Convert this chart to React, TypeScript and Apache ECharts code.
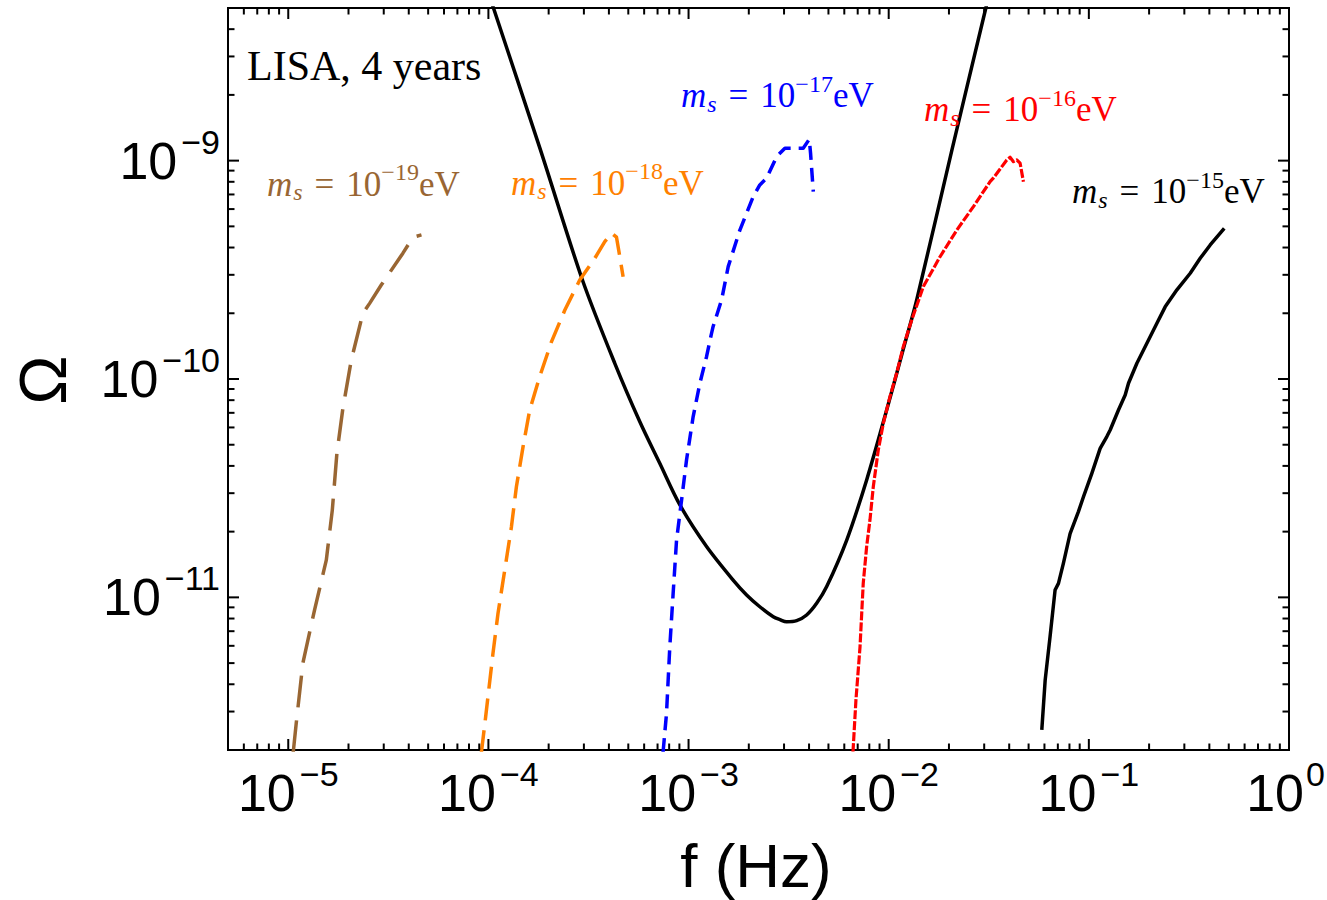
import React, { useEffect, useRef } from 'react';
import * as echarts from 'echarts';

// Frame of the plot: frequency (Hz) and energy density Ω, both logarithmic
const F_MIN = 5e-6;
const F_MAX = 1;
const OMEGA_MIN = 2e-12;
const OMEGA_MAX = 5e-9;

// Exponents that carry a tick label
const freqLabelExponents = [-5, -4, -3, -2, -1, 0];
const omegaLabelExponents = [-11, -10, -9];

// Decades and mantissas used for the frame ticks
const freqDecades = [-6, -5, -4, -3, -2, -1, 0];
const omegaDecades = [-12, -11, -10, -9];
const minorMantissas = [2, 3, 4, 5, 6, 7, 8, 9];

// LISA, 4 years: power-law sensitivity curve
const lisaFreq = [9.53e-5, 1.054e-4, 1.82e-4, 2.95e-4, 4.28e-4, 5.71e-4, 7.18e-4, 9.05e-4, 1.23e-3, 1.67e-3, 1.95e-3, 2.27e-3, 2.65e-3, 2.86e-3, 3.09e-3, 3.47e-3, 3.89e-3, 4.365e-3, 4.9e-3, 6.17e-3, 7.76e-3, 9.77e-3, 1.18e-2, 1.38e-2, 2.07e-2, 3.07e-2, 3.3e-2];
const lisaOmega = [6.73e-9, 5.08e-9, 1.12e-9, 2.84e-10, 1.18e-10, 6.37e-11, 4.11e-11, 2.65e-11, 1.71e-11, 1.2e-11, 1.026e-11, 9.06e-12, 8.15e-12, 7.91e-12, 7.73e-12, 7.82e-12, 8.3e-12, 9.39e-12, 1.12e-11, 1.83e-11, 3.45e-11, 7.21e-11, 1.36e-10, 2.3e-10, 1.12e-9, 5.08e-9, 6.73e-9];

// m_s = 1e-19 eV
const freqM19 = [1.059e-5, 1.096e-5, 1.183e-5, 1.353e-5, 1.549e-5, 1.66e-5, 1.75e-5, 1.875e-5, 2.065e-5, 2.36e-5, 2.55e-5, 2.92e-5, 3.74e-5, 4.2e-5, 4.63e-5];
const omegaM19 = [1.955e-12, 2.65e-12, 4.99e-12, 8.75e-12, 1.48e-11, 2.51e-11, 4.57e-11, 7.34e-11, 1.22e-10, 2.0e-10, 2.22e-10, 2.7e-10, 3.77e-10, 4.46e-10, 4.57e-10];

// m_s = 1e-18 eV
const freqM18 = [9.23e-5, 9.69e-5, 1.054e-4, 1.117e-4, 1.206e-4, 1.303e-4, 1.38e-4, 1.49e-4, 1.608e-4, 1.805e-4, 2.065e-4, 2.41e-4, 2.86e-4, 3.4e-4, 3.815e-4, 4.135e-4, 4.365e-4, 4.535e-4, 4.71e-4];
const omegaM18 = [1.955e-12, 2.84e-12, 5.54e-12, 8.45e-12, 1.33e-11, 2.1e-11, 3.21e-11, 4.9e-11, 7.21e-11, 1.026e-10, 1.48e-10, 2.07e-10, 2.84e-10, 3.57e-10, 4.26e-10, 4.65e-10, 4.46e-10, 3.63e-10, 2.94e-10];

// m_s = 1e-17 eV
const freqM17 = [7.46e-4, 7.76e-4, 8.06e-4, 8.375e-4, 8.71e-4, 9.23e-4, 9.77e-4, 1.054e-3, 1.139e-3, 1.23e-3, 1.303e-3, 1.327e-3, 1.462e-3, 1.578e-3, 1.805e-3, 2.104e-3, 2.27e-3, 2.455e-3, 2.754e-3, 3.03e-3, 3.74e-3, 4.01e-3, 4.07e-3, 4.2e-3];
const omegaM17 = [1.955e-12, 2.94e-12, 5.94e-12, 1.042e-11, 1.83e-11, 2.79e-11, 4.26e-11, 6.71e-11, 9.56e-11, 1.265e-10, 1.62e-10, 1.74e-10, 2.3e-10, 3.27e-10, 4.81e-10, 6.84e-10, 7.74e-10, 8.31e-10, 1.043e-9, 1.14e-9, 1.14e-9, 1.253e-9, 1.081e-9, 7.21e-10];

// m_s = 1e-16 eV
const freqM16 = [6.63e-3, 6.86e-3, 7.19e-3, 7.46e-3, 7.76e-3, 8.06e-3, 8.375e-3, 8.87e-3, 9.4e-3, 1.015e-2, 1.096e-2, 1.183e-2, 1.303e-2, 1.49e-2, 1.805e-2, 2.19e-2, 2.65e-2, 3.21e-2, 3.33e-2, 3.89e-2, 4.04e-2, 4.2e-2, 4.365e-2, 4.535e-2, 4.71e-2];
const omegaM16 = [1.955e-12, 3.39e-12, 5.94e-12, 1.159e-11, 1.71e-11, 2.26e-11, 3.21e-11, 4.73e-11, 6.27e-11, 8.3e-11, 1.062e-10, 1.406e-10, 1.862e-10, 2.65e-10, 3.63e-10, 4.81e-10, 6.16e-10, 8.01e-10, 8.31e-10, 1.007e-9, 1.036e-9, 9.89e-10, 1.007e-9, 9.73e-10, 8.01e-10];

// m_s = 1e-15 eV
const freqM15 = [5.82e-2, 6.05e-2, 6.4e-2, 6.78e-2, 7.05e-2, 7.46e-2, 8.06e-2, 8.87e-2, 9.4e-2, 0.1035, 0.1139, 0.123, 0.1278, 0.1406, 0.1519, 0.1578, 0.1738, 0.195, 0.2188, 0.2406, 0.2754, 0.321, 0.36, 0.404, 0.4748];
const omegaM15 = [2.47e-12, 4.18e-12, 6.61e-12, 1.08e-11, 1.159e-11, 1.43e-11, 1.96e-11, 2.47e-11, 2.89e-11, 3.7e-11, 4.81e-11, 5.45e-11, 5.84e-11, 7.21e-11, 8.45e-11, 9.56e-11, 1.18e-10, 1.457e-10, 1.8e-10, 2.14e-10, 2.56e-10, 3.05e-10, 3.57e-10, 4.11e-10, 4.9e-10];

// Scalar masses (exponent of eV) shown in the labels
const massExponents = [-19, -18, -17, -16, -15];

const SANS = "'Liberation Sans', Arial, Helvetica, sans-serif";
const SERIF = "'Liberation Serif', 'Times New Roman', Times, serif";
const MINUS = '\u2212';

const zip = (xs: number[], ys: number[]) => xs.map((x, i) => [x, ys[i]]);

const powerLabel = (allowed: number[]) => (v: number) => {
  const e = Math.log10(v);
  const r = Math.round(e);
  if (Math.abs(e - r) > 1e-6 || allowed.indexOf(r) < 0) return '';
  if (r === 0) return '{b|10}{z|0}';
  const exp = r < 0 ? MINUS + String(-r) : String(r);
  return `{b|10}{e|${exp}}`;
};

const tickRich = {
  b: { fontFamily: SANS, fontSize: 52, color: '#000' },
  e: { fontFamily: SANS, fontSize: 34, color: '#000', padding: [0, 0, 38, 4] },
  // the label at the right end keeps a little room so it stays on the canvas
  z: { fontFamily: SANS, fontSize: 34, color: '#000', padding: [0, 7, 38, 2] },
};

function buildTicks(decades: number[], lo: number, hi: number) {
  const major: number[] = [];
  const minor: number[] = [];
  decades.forEach((d) => {
    const p = Math.pow(10, d);
    if (p > lo * 1.0001 && p < hi * 0.9999) major.push(p);
    minorMantissas.forEach((m) => {
      const v = m * p;
      if (v > lo * 1.0001 && v < hi * 0.9999) minor.push(v);
    });
  });
  return { major, minor };
}

function tickSeries(values: number[], axis: 'x' | 'y', len: number) {
  return {
    type: 'custom',
    silent: true,
    clip: false,
    z: 5,
    data: values.map((v) => (axis === 'x' ? [v, OMEGA_MIN] : [F_MIN, v])),
    renderItem: (params: any, api: any) => {
      const cs = params.coordSys;
      const style = { stroke: '#000', lineWidth: 2 };
      if (axis === 'x') {
        const p = api.coord([api.value(0), OMEGA_MIN]);
        const bottom = cs.y + cs.height;
        return {
          type: 'group',
          children: [
            { type: 'line', shape: { x1: p[0], y1: bottom, x2: p[0], y2: bottom - len }, style },
            { type: 'line', shape: { x1: p[0], y1: cs.y, x2: p[0], y2: cs.y + len }, style },
          ],
        };
      }
      const p = api.coord([F_MIN, api.value(1)]);
      const right = cs.x + cs.width;
      return {
        type: 'group',
        children: [
          { type: 'line', shape: { x1: cs.x, y1: p[1], x2: cs.x + len, y2: p[1] }, style },
          { type: 'line', shape: { x1: right, y1: p[1], x2: right - len, y2: p[1] }, style },
        ],
      };
    },
  };
}

function massLabel(exp: number, color: string, x: number, baseline: number) {
  const rich = {
    m: { fontFamily: SERIF, fontStyle: 'italic', fontSize: 35, fill: color },
    s: { fontFamily: SERIF, fontStyle: 'italic', fontSize: 24, fill: color, padding: [16, 0, 0, 1] },
    q: { fontFamily: SERIF, fontSize: 35, fill: color, padding: [0, 12, 0, 12] },
    n: { fontFamily: SERIF, fontSize: 35, fill: color },
    p: { fontFamily: SERIF, fontSize: 24, fill: color, padding: [0, 0, 24, 0] },
    u: { fontFamily: SERIF, fontSize: 35, fill: color },
  };
  const expText = exp < 0 ? MINUS + String(-exp) : String(exp);
  return {
    type: 'text',
    x,
    y: baseline - 11.8,
    z: 10,
    style: {
      text: `{m|m}{s|s}{q|=}{n|10}{p|${expText}}{u|eV}`,
      rich,
      fill: color,
      align: 'left',
      verticalAlign: 'middle',
    },
  };
}

export default function App() {
  const ref = useRef<HTMLDivElement>(null);

  useEffect(() => {
    if (!ref.current) return;
    const chart = echarts.init(ref.current, undefined, { renderer: 'svg' });

    const xt = buildTicks(freqDecades, F_MIN, F_MAX);
    const yt = buildTicks(omegaDecades, OMEGA_MIN, OMEGA_MAX);

    const curves = [
      { name: 'LISA', data: zip(lisaFreq, lisaOmega), color: '#000000', width: 3.5, dash: 'solid' as any, smooth: 0.3 },
      { name: 'm19', data: zip(freqM19, omegaM19), color: '#996633', width: 3.5, dash: [32, 13], smooth: false },
      { name: 'm18', data: zip(freqM18, omegaM18), color: '#ff8000', width: 3.5, dash: [22, 10], smooth: false },
      { name: 'm17', data: zip(freqM17, omegaM17), color: '#0000ff', width: 3.5, dash: [14, 8], smooth: false },
      { name: 'm16', data: zip(freqM16, omegaM16), color: '#ff0000', width: 3.2, dash: [9, 2], smooth: false },
      { name: 'm15', data: zip(freqM15, omegaM15), color: '#000000', width: 3.5, dash: 'solid' as any, smooth: false },
    ];

    const labelColors = ['#996633', '#ff8000', '#0000ff', '#ff0000', '#000000'];
    const labelAnchors = [
      [267, 196],
      [511, 195],
      [681, 107.5],
      [924, 121.5],
      [1072, 203.5],
    ];

    chart.setOption({
      animation: false,
      backgroundColor: '#ffffff',
      grid: {
        left: 228,
        top: 8,
        right: 38,
        bottom: 150,
        show: true,
        borderColor: '#000',
        borderWidth: 2,
        backgroundColor: 'transparent',
        outerBoundsMode: 'none',
      },
      xAxis: {
        type: 'log',
        logBase: 10,
        min: F_MIN,
        max: F_MAX,
        axisLine: { show: false },
        axisTick: { show: false },
        minorTick: { show: false },
        splitLine: { show: false },
        axisLabel: {
          formatter: powerLabel(freqLabelExponents),
          rich: tickRich,
          margin: 7,
          showMinLabel: false,
        },
      },
      yAxis: {
        type: 'log',
        logBase: 10,
        min: OMEGA_MIN,
        max: OMEGA_MAX,
        axisLine: { show: false },
        axisTick: { show: false },
        minorTick: { show: false },
        splitLine: { show: false },
        axisLabel: {
          formatter: powerLabel(omegaLabelExponents),
          rich: tickRich,
          margin: 8,
        },
      },
      series: [
        ...curves.map((c) => ({
          type: 'line',
          name: c.name,
          data: c.data,
          showSymbol: false,
          symbol: 'none',
          smooth: c.smooth,
          clip: true,
          silent: true,
          lineStyle: { color: c.color, width: c.width, type: c.dash, cap: 'butt', join: 'round' },
          z: 3,
        })),
        tickSeries(xt.major, 'x', 11),
        tickSeries(xt.minor, 'x', 6.5),
        tickSeries(yt.major, 'y', 11),
        tickSeries(yt.minor, 'y', 6.5),
      ],
      graphic: [
        {
          type: 'text',
          x: 247,
          y: 65.8,
          z: 10,
          style: { text: 'LISA, 4 years', fontFamily: SERIF, fontSize: 42, fill: '#000', align: 'left', verticalAlign: 'middle' },
        },
        ...massExponents.map((e, i) => massLabel(e, labelColors[i], labelAnchors[i][0], labelAnchors[i][1])),
        {
          type: 'text',
          x: 756,
          y: 865.5,
          z: 10,
          style: { text: 'f (Hz)', fontFamily: SANS, fontSize: 62, fill: '#000', align: 'center', verticalAlign: 'middle' },
        },
        {
          type: 'text',
          x: 43,
          y: 380,
          rotation: Math.PI / 2,
          z: 10,
          style: { text: 'Ω', fontFamily: SANS, fontSize: 66, fill: '#000', align: 'center', verticalAlign: 'middle' },
        },
      ],
    });

    return () => chart.dispose();
  }, []);

  return (
    <div
      ref={ref}
      style={{ position: 'fixed', left: 0, top: 0, width: '1327px', height: '900px', background: '#fff' }}
    />
  );
}
